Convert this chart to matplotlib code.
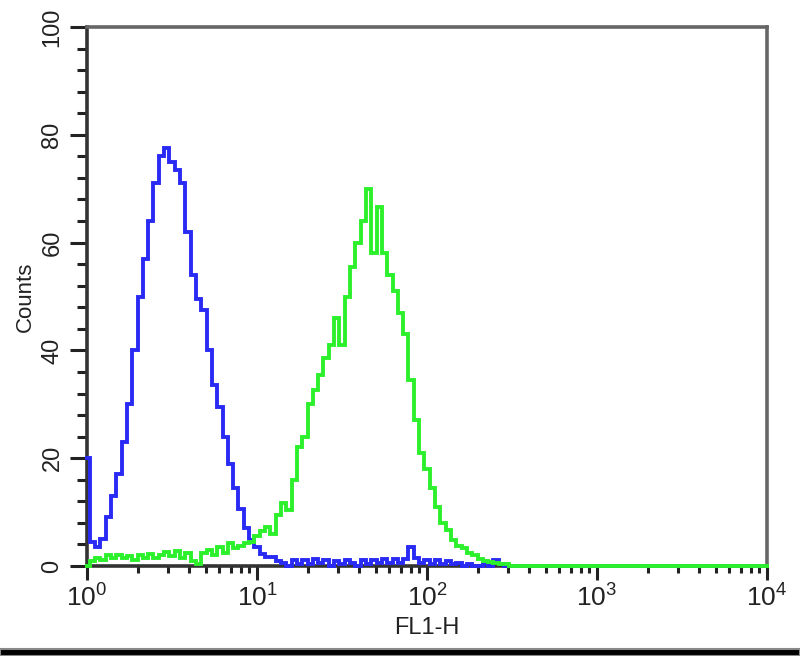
import numpy as np
import matplotlib
matplotlib.use("Agg")
import matplotlib.pyplot as plt
from matplotlib.patches import Rectangle
from matplotlib.ticker import LogLocator, MultipleLocator, FixedLocator

plt.rcParams['font.family'] = ['Liberation Sans', 'DejaVu Sans']
plt.rcParams['mathtext.fontset'] = 'custom'
plt.rcParams['mathtext.rm'] = 'Liberation Sans'
plt.rcParams['mathtext.default'] = 'regular'

# log channels, 32 per decade (FL1-H = 10 ** (channel / 32))
channels_per_decade = 32
n_channels = 128

# counts read per channel, blue histogram (control)
blue_counts = [20, 4.5, 3.5, 5, 9, 13, 17, 23, 30, 40,
               50, 57, 64, 71, 76, 77.5, 75, 73.5, 71, 62,
               54, 49.5, 47.5, 40, 33.5, 29.5, 24, 19, 14.5, 10.5,
               7, 4.8, 3.5, 2.3, 1.7, 1.7, 1.0, 0.5, 0, 1.2,
               0.3, 1.2, 0.3, 1.3, 0.5, 1.2, 0, 1.0, 0.3, 1.2,
               0.5, 0, 1.2, 0.3, 1.2, 0.5, 1.3, 0.5, 1.3, 0.5,
               1.3, 3.5, 1.5, 0.5, 1.2, 0.3, 1.2, 0.3, 1.0, 0.3,
               0.5, 0, 0.3, 0, 0, 0.3, 0, 1.2, 0.3, 0]
blue_counts = blue_counts + [0] * (n_channels - len(blue_counts))

# counts read per channel, green histogram (antibody)
green_counts = [0, 1.0, 1.5, 1.2, 2.0, 1.5, 2.0, 1.5, 1.8, 1.2,
                2.0, 1.5, 2.2, 1.5, 2.0, 2.6, 1.8, 2.8, 1.5, 2.5,
                1.0, 0.3, 2.5, 3.0, 2.0, 3.5, 2.5, 4.2, 3.3, 3.8,
                4.2, 4.5, 5.5, 6.5, 7.2, 6.0, 9.5, 11.7, 10.4, 16,
                22, 24, 30, 32.7, 35.5, 38.5, 41, 46, 41, 50,
                55.5, 60, 64, 70, 58, 66.6, 58, 54, 51, 47,
                43, 34.5, 27, 21, 18, 14.5, 11, 8, 6.7, 4.8,
                3.7, 3.3, 2.5, 2.0, 1.3, 1.0, 0.7, 0.5, 0.3, 0.3]
green_counts = green_counts + [0] * (n_channels - len(green_counts) + 1)

fl_blue = 10 ** (np.arange(len(blue_counts)) / channels_per_decade)
fl_green = 10 ** (np.arange(len(green_counts)) / channels_per_decade)

fig = plt.figure(figsize=(8, 6.56), dpi=100)
ax = fig.add_axes([0.10875, 0.1372, 0.85, 0.8216])

ax.plot(fl_blue, blue_counts, drawstyle='steps-mid', color='#2a2af5',
        lw=2.8, solid_joinstyle='miter', clip_on=False, zorder=3)
ax.plot(fl_green, green_counts, drawstyle='steps-mid', color='#2cf02c',
        lw=2.8, solid_joinstyle='miter', clip_on=False, zorder=4)

ax.set_xscale('log')
ax.set_xlim(1, 1e4)
ax.set_ylim(0, 100)

ax.xaxis.set_major_locator(FixedLocator([1, 10, 100, 1000, 10000]))
ax.xaxis.set_minor_locator(LogLocator(base=10, subs=np.arange(2, 10), numticks=20))
ax.set_xticklabels([r'$10^0$', r'$10^1$', r'$10^2$', r'$10^3$', r'$10^4$'])
ax.yaxis.set_major_locator(MultipleLocator(20))
ax.yaxis.set_minor_locator(MultipleLocator(4))

text_col = '#222222'
ax.tick_params(axis='x', which='major', length=10, width=2.2, color='#222222',
               labelsize=19, labelcolor=text_col, pad=3)
ax.tick_params(axis='x', which='minor', length=5, width=2.2, color='#222222')
ax.tick_params(axis='y', which='major', length=12, width=2.2, color='#222222',
               labelsize=17, labelcolor=text_col, pad=5, labelrotation=90)
ax.tick_params(axis='y', which='minor', length=7, width=2.2, color='#222222')
for lab in ax.get_yticklabels():
    lab.set_va('center')

ax.spines['left'].set_color('#333333')
ax.spines['bottom'].set_color('#333333')
ax.spines['top'].set_color('#666666')
ax.spines['right'].set_color('#666666')
for s in ax.spines.values():
    s.set_linewidth(2.6)

ax.set_xlabel('FL1-H', fontsize=17, color=text_col, labelpad=4)
ax.set_ylabel('Counts', fontsize=16, color=text_col, labelpad=4)

# dark strip along the bottom edge of the image
fig.patches.append(Rectangle((0, 0), 1, 7 / 656, transform=fig.transFigure,
                             facecolor='black', edgecolor='#888888', lw=1.5))

fig.savefig('out.png', dpi=100)
